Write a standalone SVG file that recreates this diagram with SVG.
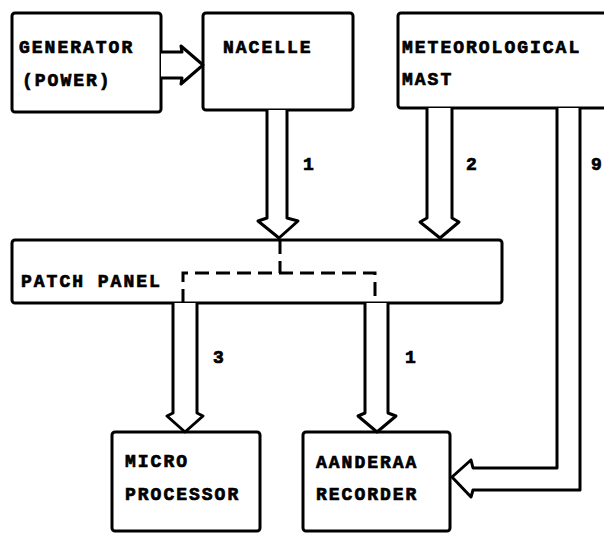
<svg xmlns="http://www.w3.org/2000/svg" width="604" height="533" viewBox="0 0 604 533">
<style>
.box{fill:#fff;stroke:#000;stroke-width:3}
.arr{fill:#fff;stroke:#000;stroke-width:3;stroke-linejoin:round}
.dash{fill:none;stroke:#000;stroke-width:3;stroke-dasharray:14 7}
text{font-family:"Liberation Mono","DejaVu Sans Mono",monospace;font-weight:bold;font-size:18px;letter-spacing:2px;fill:#000;stroke:#000;stroke-width:0.7}
</style>
<rect width="604" height="533" fill="#fff"/>
<g id="generator"><rect class="box" x="12" y="13" width="149" height="99" rx="3"/><text x="19" y="53">GENERATOR</text><text x="22" y="86">(POWER)</text></g>
<g id="nacelle"><rect class="box" x="203" y="13" width="150" height="97" rx="3"/><text x="223" y="53">NACELLE</text></g>
<g id="mast"><rect class="box" x="398" y="13" width="215" height="95" rx="3"/><text x="402" y="53">METEOROLOGICAL</text><text x="402" y="85">MAST</text></g>
<g id="patch"><rect class="box" x="12" y="240" width="490" height="63" rx="3"/><text x="21" y="287">PATCH PANEL</text></g>
<g id="micro"><rect class="box" x="112" y="432" width="148" height="99" rx="3"/><text x="125" y="467">MICRO</text><text x="125" y="500">PROCESSOR</text></g>
<g id="recorder"><rect class="box" x="303" y="432" width="147" height="99" rx="3"/><text x="316" y="468">AANDERAA</text><text x="316" y="500">RECORDER</text></g>
<g id="connectors">
<path class="arr" d="M161 52 H182 L181 46 L203 65 L181 84 L182 78 H161"/>
<path class="arr" d="M267 110 V218 L258 221 L279 238 L298 221 L287 218 V110"/>
<path class="arr" d="M427 108 V218 L420 222 L440 238 L459 222 L452 218 V108"/>
<path class="arr" d="M557 108 V468 H473 L471 460 L452 477 L471 497 L473 490 H580 V108"/>
<path class="arr" d="M173 303 V413 L167 416 L185 432 L203 416 L197 413 V303"/>
<path class="arr" d="M365 303 V413 L358 416 L377 432 L396 416 L388 413 V303"/>
<path class="dash" d="M280 240 V273 M183 303 V273 H375 V303"/>
<text x="303" y="170">1</text>
<text x="466" y="170">2</text>
<text x="591" y="170">9</text>
<text x="213" y="363">3</text>
<text x="405" y="363">1</text>
</g>
</svg>
